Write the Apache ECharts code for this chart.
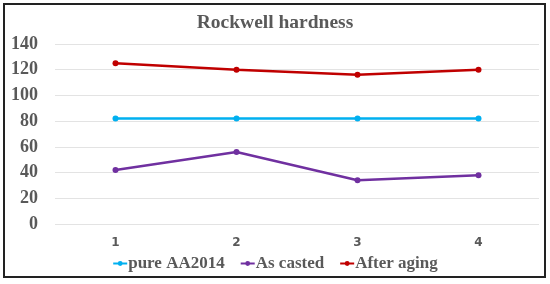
<!DOCTYPE html>
<html>
<head>
<meta charset="utf-8">
<script src="https://cdn.jsdelivr.net/npm/echarts@6/dist/echarts.min.js"></script>
<style>
  html, body { margin: 0; padding: 0; background: #fff; }
  #main { width: 550px; height: 284px; }
</style>
</head>
<body>
<div id="main"></div>
<script>
// 数据
var categories = ['1', '2', '3', '4'];
var pureAA2014 = [82, 82, 82, 82];
var asCasted = [42, 56, 34, 38];
var afterAging = [125, 120, 116, 120];

var myChart = echarts.init(document.getElementById('main'));

function lineSeries(name, data, color) {
  return {
    name: name,
    type: 'line',
    data: data,
    symbol: 'circle',
    symbolSize: 6,
    itemStyle: { color: color },
    lineStyle: { color: color, width: 2.5 }
  };
}

myChart.setOption({
  animation: false,
  backgroundColor: '#fff',
  // 外框
  graphic: [{
    type: 'rect',
    shape: { x: 4, y: 4, width: 541, height: 273 },
    style: { fill: 'none', stroke: '#222', lineWidth: 2 },
    silent: true
  }],
  title: {
    text: 'Rockwell hardness',
    left: 'center',
    top: 8,
    textStyle: { fontFamily: 'Liberation Serif', fontWeight: 'bold', fontSize: 19.5, color: '#595959' }
  },
  legend: {
    data: ['pure AA2014', 'As casted', 'After aging'],
    bottom: 7,
    left: 'center',
    itemWidth: 14,
    itemHeight: 6,
    itemGap: 15,
    textStyle: { fontFamily: 'Liberation Serif', fontWeight: 'bold', fontSize: 17, color: '#595959', padding: [0, 0, 0, -4] }
  },
  grid: { left: 55, right: 11, top: 44, bottom: 60, containLabel: false },
  xAxis: {
    type: 'category',
    data: categories,
    boundaryGap: true,
    axisLine: { show: false },
    axisTick: { show: false },
    axisLabel: { margin: 13, fontFamily: 'DejaVu Sans', fontWeight: 'bold', fontSize: 12, color: '#595959' }
  },
  yAxis: {
    type: 'value',
    min: 0,
    max: 140,
    interval: 20,
    axisLine: { show: false },
    axisTick: { show: false },
    splitLine: { lineStyle: { color: '#e3e3e3', width: 1 } },
    axisLabel: { margin: 17, fontFamily: 'Liberation Serif', fontWeight: 'bold', fontSize: 18, color: '#595959' }
  },
  series: [
    lineSeries('pure AA2014', pureAA2014, '#00b0f0'),
    lineSeries('As casted', asCasted, '#7030a0'),
    lineSeries('After aging', afterAging, '#c00000')
  ]
});
</script>
</body>
</html>
